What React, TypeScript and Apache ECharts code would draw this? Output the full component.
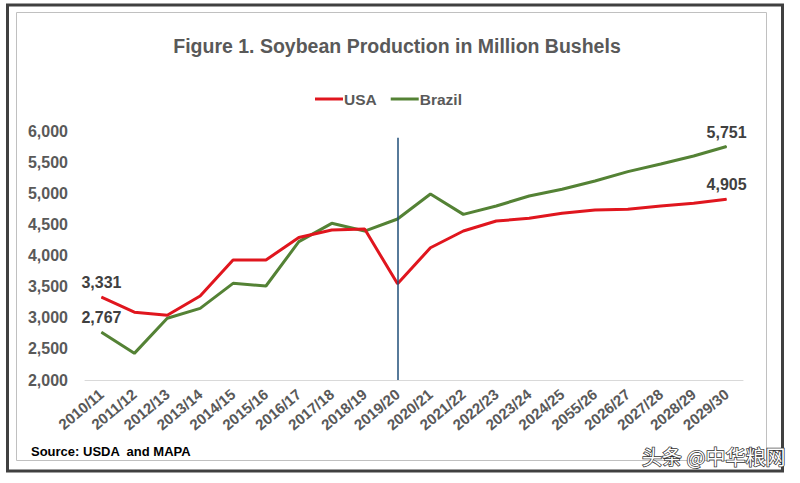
import React, { useEffect, useRef } from "react";
import * as echarts from "echarts";

const categories = [
  "2010/11", "2011/12", "2012/13", "2013/14", "2014/15", "2015/16", "2016/17",
  "2017/18", "2018/19", "2019/20", "2020/21", "2021/22", "2022/23", "2023/24",
  "2024/25", "2055/26", "2026/27", "2027/28", "2028/29", "2029/30",
];

const usa = [
  3331, 3090, 3040, 3350, 3928, 3928, 4288, 4410, 4425, 3545,
  4125, 4393, 4554, 4597, 4677, 4731, 4742, 4795, 4838, 4905,
];

const brazil = [
  2767, 2428, 2991, 3151, 3553, 3510, 4222, 4517, 4393, 4586,
  4988, 4661, 4795, 4956, 5063, 5197, 5347, 5470, 5598, 5751,
];

const labelled = [0, 19];
const markerCategory = "2019/20";
const markerRange = [5890, 2000];

const FONT = "Liberation Sans, Arial, sans-serif";

function withLabels(values: number[]) {
  return values.map((v, i) =>
    labelled.includes(i)
      ? {
          value: v,
          label: {
            show: true,
            position: "top",
            distance: 6,
            formatter: (p: any) => Number(p.value).toLocaleString("en-US"),
            fontFamily: FONT,
            fontWeight: "bold",
            fontSize: 16,
            color: "#404040",
          },
        }
      : v
  );
}

export default function App() {
  const ref = useRef<HTMLDivElement>(null);
  useEffect(() => {
    if (!ref.current) return;
    const chart = echarts.init(ref.current, undefined, { renderer: "svg" });
    chart.setOption({
      animation: false,
      backgroundColor: "#ffffff",
      title: {
        text: "Figure 1. Soybean Production in Million Bushels",
        left: 392,
        textAlign: "center",
        top: 31,
        textStyle: { fontFamily: FONT, fontWeight: "bold", fontSize: 19.5, color: "#595959" },
      },
      legend: {
        left: 310,
        top: 86,
        icon: "rect",
        itemWidth: 28,
        itemHeight: 3,
        itemGap: 14,
        textStyle: {
          fontFamily: FONT,
          fontWeight: "bold",
          fontSize: 15.5,
          color: "#595959",
          padding: [0, 0, 0, -4],
        },
        data: ["USA", "Brazil"],
      },
      grid: { left: 85, right: 57, top: 131, bottom: 103, containLabel: false },
      xAxis: {
        type: "category",
        data: categories,
        boundaryGap: true,
        axisLine: { lineStyle: { color: "#d9d9d9", width: 1 } },
        axisTick: { show: false },
        axisLabel: {
          rotate: 40,
          interval: 0,
          margin: 12,
          fontFamily: FONT,
          fontWeight: "bold",
          fontSize: 15,
          color: "#595959",
        },
      },
      yAxis: {
        type: "value",
        min: 2000,
        max: 6000,
        interval: 500,
        axisLine: { show: false },
        axisTick: { show: false },
        splitLine: { show: false },
        axisLabel: {
          margin: 17,
          fontFamily: FONT,
          fontWeight: "bold",
          fontSize: 16,
          color: "#595959",
          formatter: (v: number) => v.toLocaleString("en-US"),
        },
      },
      series: [
        {
          name: "USA",
          type: "line",
          data: withLabels(usa),
          symbol: "circle",
          symbolSize: 1,
          showSymbol: true,
          lineStyle: { color: "#e0161e", width: 3 },
          itemStyle: { color: "#e0161e" },
          z: 3,
          markLine: {
            silent: true,
            symbol: "none",
            label: { show: false },
            lineStyle: { color: "#1f4e79", width: 1.5, type: "solid" },
            data: [
              [
                { coord: [markerCategory, markerRange[0]] },
                { coord: [markerCategory, markerRange[1]] },
              ],
            ],
          },
        },
        {
          name: "Brazil",
          type: "line",
          data: withLabels(brazil),
          symbol: "circle",
          symbolSize: 1,
          showSymbol: true,
          lineStyle: { color: "#548235", width: 3 },
          itemStyle: { color: "#548235" },
          z: 2,
        },
      ],
      graphic: [
        {
          type: "rect",
          shape: { x: 7.5, y: 5, width: 775, height: 466 },
          style: { fill: "none", stroke: "#404040", lineWidth: 3 },
          silent: true,
        },
        {
          type: "rect",
          shape: { x: 16.5, y: 12.5, width: 750, height: 448 },
          style: { fill: "none", stroke: "#c0c0c0", lineWidth: 1 },
          silent: true,
        },
        {
          type: "text",
          x: 31,
          y: 445,
          style: {
            text: "Source: USDA  and MAPA",
            fontFamily: FONT,
            fontWeight: "bold",
            fontSize: 13,
            fill: "#000000",
          },
        },
        {
          type: "text",
          x: 642,
          y: 446,
          z: 10,
          style: {
            text: "头条 @中华粮网",
            fontFamily: "Noto Sans CJK SC",
            fontSize: 20,
            fill: "#ffffff",
            stroke: "#333333",
            lineWidth: 1.5,
          },
        },
      ],
    });
    return () => chart.dispose();
  }, []);
  return (
    <div
      ref={ref}
      style={{ position: "fixed", left: 0, top: 0, width: 800, height: 483 }}
    />
  );
}
